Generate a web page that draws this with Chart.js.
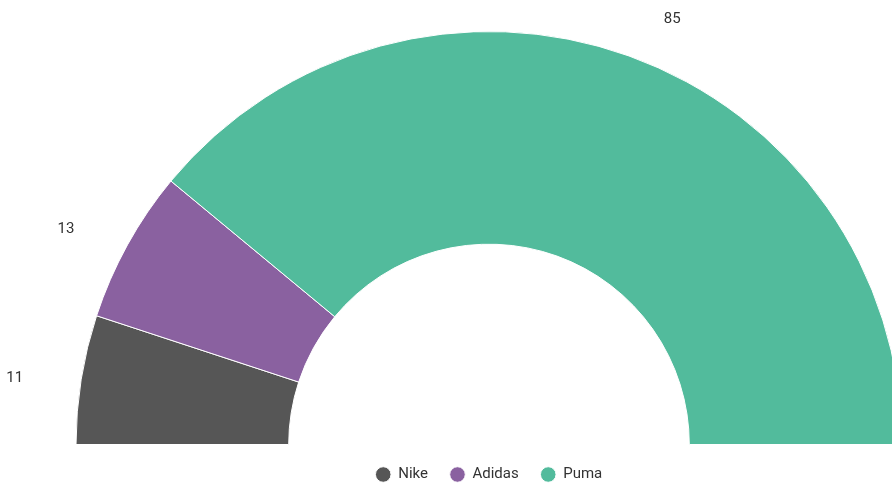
<!DOCTYPE html>
<html>
<head>
<meta charset="utf-8">
<script src="https://cdn.jsdelivr.net/npm/chart.js@4/dist/chart.umd.min.js"></script>
<style>
  html, body { margin: 0; padding: 0; background: #fff; }
  #wrap { width: 892px; height: 486px; overflow: hidden; position: relative; }
  #box { position: absolute; left: 0; top: 0; width: 978px; height: 486px; }
</style>
</head>
<body>
<div id="wrap"><div id="box"><canvas id="c"></canvas></div></div>
<script>
const brands = ['Nike', 'Adidas', 'Puma'];
const counts = [11, 13, 85];
const colors = ['#565656', '#8a61a0', '#52bb9c'];

// 把数值写在扇区外侧，左右两边往外再推一点
const valueLabels = {
  id: 'valueLabels',
  afterDatasetsDraw(chart) {
    const ctx = chart.ctx;
    const meta = chart.getDatasetMeta(0);
    ctx.save();
    ctx.font = '15px Roboto, "DejaVu Sans", sans-serif';
    ctx.fillStyle = '#333';
    ctx.textAlign = 'center';
    ctx.textBaseline = 'middle';
    meta.data.forEach((arc, i) => {
      const mid = (arc.startAngle + arc.endAngle) / 2;
      const r = arc.outerRadius + 45;
      const side = Math.cos(mid) >= 0 ? 1 : -1;
      const x = arc.x + Math.cos(mid) * r + side * 25 + 3;
      const y = arc.y + Math.sin(mid) * r + 6;
      ctx.fillText(String(counts[i]), x, y);
    });
    ctx.restore();
  }
};

new Chart(document.getElementById('c'), {
  type: 'doughnut',
  data: {
    labels: brands,
    datasets: [{
      data: counts,
      backgroundColor: colors,
      borderColor: '#fff',
      borderWidth: 1,
      hoverOffset: 0
    }]
  },
  options: {
    responsive: true,
    maintainAspectRatio: false,
    animation: false,
    rotation: -90,
    circumference: 180,
    cutout: '48.5%',
    layout: { padding: { top: 31, left: 0, right: 0, bottom: -6 } },
    plugins: {
      legend: {
        position: 'bottom',
        labels: {
          usePointStyle: true,
          pointStyle: 'circle',
          boxWidth: 15,
          boxHeight: 11,
          padding: 22,
          color: '#333',
          font: { size: 15, family: 'Roboto, "DejaVu Sans", sans-serif' }
        }
      },
      tooltip: { enabled: false }
    }
  },
  plugins: [valueLabels]
});
</script>
</body>
</html>
